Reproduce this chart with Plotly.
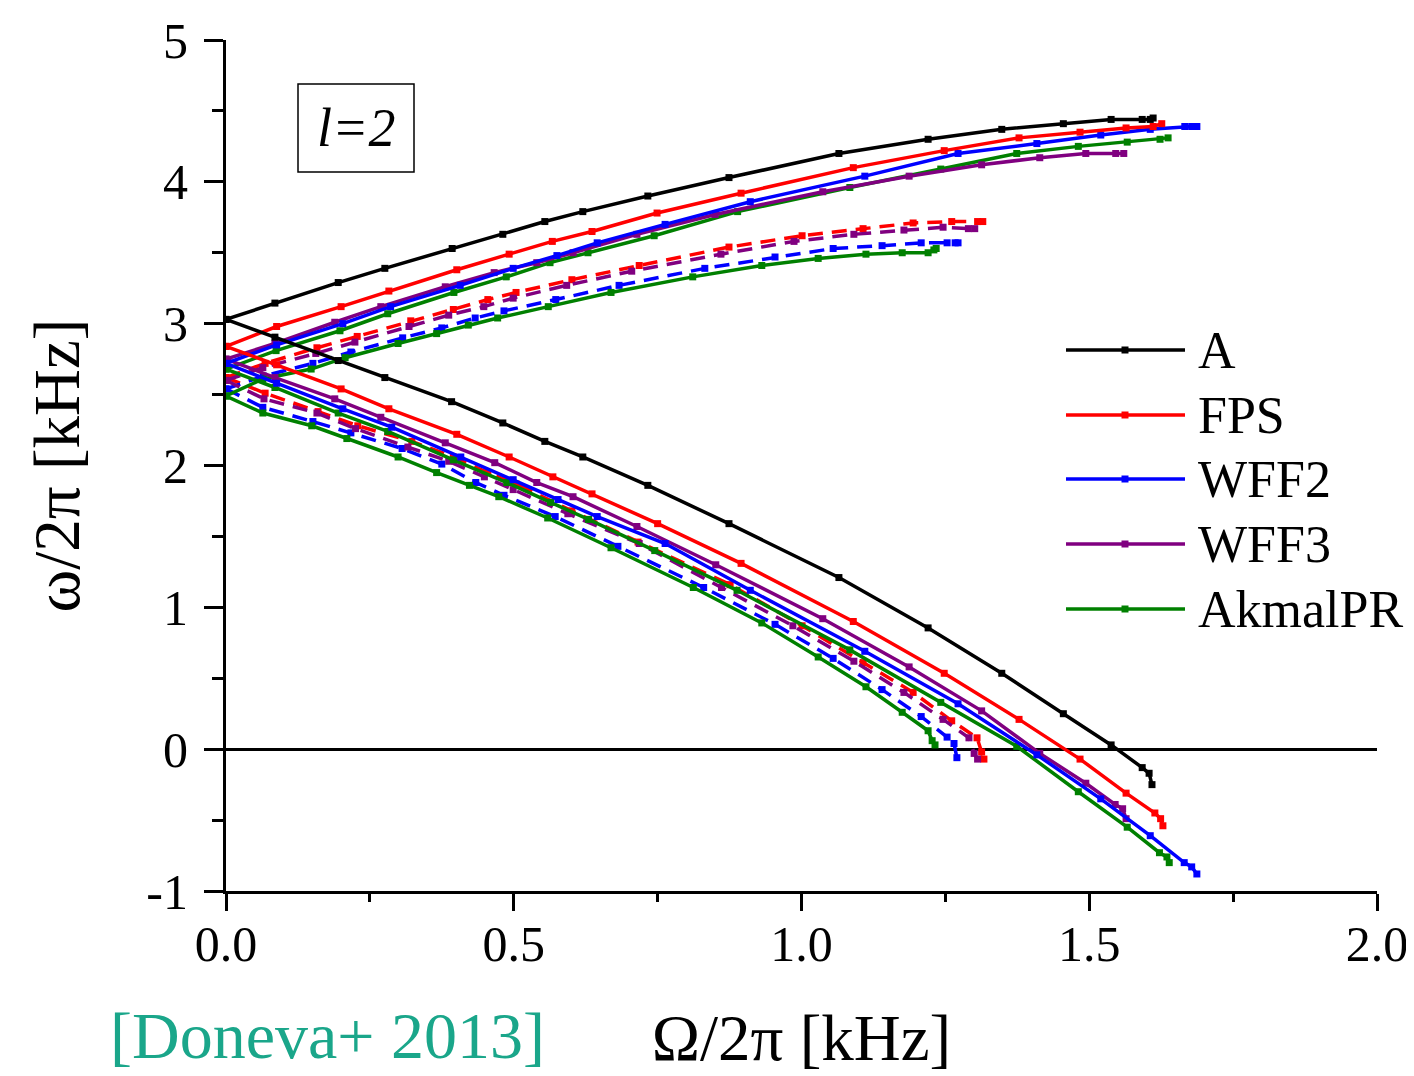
import plotly.graph_objects as go

# ---------------- data (Omega/2pi [kHz], omega/2pi [kHz]) ----------------
eos_names = ["A", "FPS", "WFF2", "WFF3", "AkmalPR"]
eos_colors = ["#000000", "#ff0000", "#0000ff", "#800080", "#008000"]

# family 1 (solid) - upper / lower branches
A_up_x = [0, 0.085, 0.195, 0.276, 0.393, 0.481, 0.554, 0.620, 0.733, 0.874, 1.065, 1.220, 1.348, 1.455, 1.538, 1.592, 1.606, 1.611]
A_up_y = [3.03, 3.145, 3.29, 3.39, 3.53, 3.63, 3.72, 3.79, 3.90, 4.03, 4.20, 4.30, 4.37, 4.41, 4.44, 4.44, 4.44, 4.45]
A_lo_x = [0, 0.085, 0.195, 0.276, 0.392, 0.481, 0.554, 0.620, 0.733, 0.874, 1.065, 1.220, 1.348, 1.455, 1.538, 1.592, 1.604, 1.609]
A_lo_y = [3.03, 2.905, 2.74, 2.62, 2.45, 2.30, 2.17, 2.06, 1.86, 1.59, 1.21, 0.855, 0.535, 0.25, 0.03, -0.13, -0.17, -0.25]

FPS_up_x = [0, 0.088, 0.200, 0.283, 0.401, 0.492, 0.567, 0.636, 0.749, 0.895, 1.090, 1.248, 1.378, 1.484, 1.564, 1.611, 1.626]
FPS_up_y = [2.84, 2.98, 3.12, 3.23, 3.38, 3.49, 3.58, 3.65, 3.78, 3.92, 4.10, 4.22, 4.31, 4.35, 4.38, 4.39, 4.41]
FPS_lo_x = [0, 0.088, 0.200, 0.283, 0.401, 0.492, 0.568, 0.636, 0.750, 0.895, 1.090, 1.248, 1.378, 1.484, 1.564, 1.614, 1.624, 1.628]
FPS_lo_y = [2.84, 2.71, 2.54, 2.40, 2.22, 2.06, 1.92, 1.80, 1.59, 1.31, 0.90, 0.535, 0.21, -0.07, -0.31, -0.45, -0.49, -0.54]

WFF2_up_x = [0, 0.088, 0.203, 0.286, 0.407, 0.499, 0.575, 0.645, 0.763, 0.911, 1.110, 1.272, 1.409, 1.520, 1.606, 1.666, 1.678, 1.687]
WFF2_up_y = [2.72, 2.85, 3.00, 3.12, 3.27, 3.39, 3.48, 3.57, 3.70, 3.86, 4.04, 4.20, 4.27, 4.33, 4.37, 4.39, 4.39, 4.39]
WFF2_lo_x = [0, 0.088, 0.203, 0.288, 0.408, 0.499, 0.577, 0.645, 0.763, 0.911, 1.110, 1.272, 1.409, 1.520, 1.606, 1.665, 1.678, 1.687]
WFF2_lo_y = [2.72, 2.58, 2.40, 2.27, 2.06, 1.90, 1.76, 1.64, 1.45, 1.12, 0.69, 0.32, -0.04, -0.35, -0.61, -0.80, -0.83, -0.88]

WFF3_up_x = [0, 0.085, 0.189, 0.269, 0.381, 0.466, 0.540, 0.603, 0.714, 0.850, 1.037, 1.187, 1.313, 1.414, 1.494, 1.546, 1.560]
WFF3_up_y = [2.75, 2.86, 3.01, 3.12, 3.26, 3.36, 3.43, 3.50, 3.63, 3.77, 3.93, 4.04, 4.12, 4.17, 4.20, 4.20, 4.20]
WFF3_lo_x = [0, 0.085, 0.189, 0.269, 0.381, 0.467, 0.540, 0.603, 0.714, 0.851, 1.037, 1.187, 1.313, 1.414, 1.494, 1.545, 1.558, 1.564]
WFF3_lo_y = [2.75, 2.62, 2.47, 2.34, 2.16, 2.02, 1.88, 1.78, 1.57, 1.30, 0.92, 0.58, 0.27, -0.03, -0.24, -0.39, -0.42, -0.49]

AkPR_up_x = [0, 0.087, 0.198, 0.281, 0.396, 0.487, 0.563, 0.629, 0.744, 0.889, 1.084, 1.242, 1.374, 1.481, 1.566, 1.623, 1.637]
AkPR_up_y = [2.68, 2.81, 2.95, 3.07, 3.22, 3.33, 3.43, 3.50, 3.62, 3.79, 3.96, 4.09, 4.20, 4.25, 4.28, 4.30, 4.31]
AkPR_lo_x = [0, 0.085, 0.195, 0.281, 0.395, 0.488, 0.564, 0.630, 0.745, 0.888, 1.084, 1.242, 1.374, 1.481, 1.566, 1.622, 1.635, 1.639]
AkPR_lo_y = [2.68, 2.55, 2.37, 2.24, 2.04, 1.88, 1.74, 1.62, 1.40, 1.12, 0.70, 0.33, 0.02, -0.30, -0.55, -0.73, -0.76, -0.80]

# family 2 (dashed; AkmalPR drawn solid) - upper / lower branches
FPS2_up_x = [0, 0.068, 0.158, 0.228, 0.321, 0.395, 0.455, 0.504, 0.601, 0.718, 0.874, 1.001, 1.107, 1.194, 1.261, 1.306, 1.315]
FPS2_up_y = [2.62, 2.72, 2.83, 2.91, 3.02, 3.10, 3.17, 3.22, 3.31, 3.41, 3.54, 3.62, 3.67, 3.71, 3.72, 3.72, 3.72]
FPS2_lo_x = [0, 0.068, 0.160, 0.229, 0.323, 0.395, 0.455, 0.504, 0.601, 0.716, 0.876, 1.001, 1.107, 1.194, 1.261, 1.305, 1.313, 1.317]
FPS2_lo_y = [2.62, 2.51, 2.38, 2.28, 2.17, 2.06, 1.95, 1.87, 1.68, 1.46, 1.16, 0.87, 0.61, 0.40, 0.20, 0.08, -0.02, -0.07]

WFF2b_up_x = [0, 0.065, 0.151, 0.217, 0.307, 0.375, 0.433, 0.483, 0.573, 0.683, 0.832, 0.954, 1.055, 1.140, 1.208, 1.253, 1.267, 1.272]
WFF2b_up_y = [2.54, 2.63, 2.72, 2.80, 2.90, 2.97, 3.04, 3.09, 3.17, 3.27, 3.39, 3.47, 3.53, 3.55, 3.57, 3.57, 3.57, 3.57]
WFF2b_lo_x = [0, 0.064, 0.151, 0.217, 0.306, 0.375, 0.434, 0.483, 0.572, 0.681, 0.830, 0.954, 1.055, 1.140, 1.208, 1.253, 1.265, 1.270]
WFF2b_lo_y = [2.54, 2.41, 2.31, 2.23, 2.12, 2.01, 1.88, 1.79, 1.64, 1.43, 1.14, 0.88, 0.64, 0.42, 0.23, 0.085, 0.04, -0.06]

WFF3b_up_x = [0, 0.064, 0.156, 0.224, 0.318, 0.387, 0.448, 0.499, 0.592, 0.705, 0.860, 0.987, 1.091, 1.178, 1.246, 1.290, 1.301]
WFF3b_up_y = [2.60, 2.69, 2.79, 2.87, 2.98, 3.06, 3.12, 3.18, 3.27, 3.37, 3.49, 3.58, 3.63, 3.66, 3.68, 3.67, 3.67]
WFF3b_lo_x = [0, 0.066, 0.158, 0.225, 0.316, 0.387, 0.449, 0.499, 0.594, 0.718, 0.861, 0.985, 1.091, 1.178, 1.246, 1.291, 1.300, 1.306]
WFF3b_lo_y = [2.60, 2.47, 2.37, 2.26, 2.13, 2.03, 1.92, 1.83, 1.66, 1.45, 1.14, 0.87, 0.62, 0.40, 0.21, 0.08, -0.03, -0.07]

AkPR2_up_x = [0, 0.064, 0.148, 0.207, 0.299, 0.366, 0.421, 0.472, 0.560, 0.669, 0.811, 0.931, 1.029, 1.112, 1.175, 1.220, 1.230, 1.234]
AkPR2_up_y = [2.49, 2.61, 2.68, 2.76, 2.86, 2.93, 2.99, 3.04, 3.12, 3.22, 3.33, 3.41, 3.46, 3.49, 3.50, 3.50, 3.52, 3.53]
AkPR2_lo_x = [0, 0.064, 0.149, 0.210, 0.299, 0.366, 0.423, 0.474, 0.559, 0.669, 0.812, 0.931, 1.029, 1.112, 1.175, 1.220, 1.227, 1.232]
AkPR2_lo_y = [2.49, 2.37, 2.28, 2.19, 2.06, 1.95, 1.86, 1.78, 1.63, 1.42, 1.14, 0.89, 0.65, 0.44, 0.26, 0.13, 0.06, 0.03]

x_tickvals = [0, 0.5, 1.0, 1.5, 2.0]
x_ticktext = ["0.0", "0.5", "1.0", "1.5", "2.0"]
y_tickvals = [-1, 0, 1, 2, 3, 4, 5]
y_ticktext = ["-1", "0", "1", "2", "3", "4", "5"]

# ---------------- figure ----------------
DASH = "15px,9px"
FONT = "Liberation Serif"

series = [
    (FPS2_up_x, FPS2_up_y, 1, DASH), (FPS2_lo_x, FPS2_lo_y, 1, DASH),
    (WFF2b_up_x, WFF2b_up_y, 2, DASH), (WFF2b_lo_x, WFF2b_lo_y, 2, DASH),
    (WFF3b_up_x, WFF3b_up_y, 3, DASH), (WFF3b_lo_x, WFF3b_lo_y, 3, DASH),
    (AkPR2_up_x, AkPR2_up_y, 4, "solid"), (AkPR2_lo_x, AkPR2_lo_y, 4, "solid"),
    (AkPR_up_x, AkPR_up_y, 4, "solid"), (AkPR_lo_x, AkPR_lo_y, 4, "solid"),
    (WFF3_up_x, WFF3_up_y, 3, "solid"), (WFF3_lo_x, WFF3_lo_y, 3, "solid"),
    (WFF2_up_x, WFF2_up_y, 2, "solid"), (WFF2_lo_x, WFF2_lo_y, 2, "solid"),
    (FPS_up_x, FPS_up_y, 1, "solid"), (FPS_lo_x, FPS_lo_y, 1, "solid"),
    (A_up_x, A_up_y, 0, "solid"), (A_lo_x, A_lo_y, 0, "solid"),
]

fig = go.Figure()
for xs, ys, ci, dash in series:
    fig.add_trace(go.Scatter(
        x=xs, y=ys, mode="lines+markers", name=eos_names[ci], showlegend=False,
        line=dict(color=eos_colors[ci], width=3.5, dash=dash),
        marker=dict(symbol="square", size=7, color=eos_colors[ci], line=dict(width=0)),
    ))

# page is shown with an 8px body margin -> compensate
OFF = 8
W, H = 1414 - OFF, 1076 - OFF
ML, MT = 226 - OFF, 40 - OFF
MR = W - (1377 - OFF)
MB = H - (891 - OFF)
PW, PH = W - ML - MR, H - MT - MB


def px2paper(px, py):
    # screen pixel (as in reference image) -> paper coordinates
    return (px - OFF - ML) / PW, (H - MB - (py - OFF)) / PH


shapes = []
annotations = []

# manual legend
leg_rows_py = [350, 415, 479, 544, 609]
lx0, _ = px2paper(1066, 0)
lx1, _ = px2paper(1185, 0)
lxm, _ = px2paper(1125, 0)
ltx, _ = px2paper(1196, 0)
for name, col, py in zip(eos_names, eos_colors, leg_rows_py):
    _, yy = px2paper(0, py)
    shapes.append(dict(type="line", xref="paper", yref="paper", x0=lx0, x1=lx1, y0=yy, y1=yy,
                       line=dict(color=col, width=3.5)))
    shapes.append(dict(type="rect", xref="paper", yref="paper", xsizemode="pixel", ysizemode="pixel",
                       xanchor=lxm, yanchor=yy, x0=-3.5, x1=3.5, y0=-3.5, y1=3.5,
                       fillcolor=col, line=dict(width=0)))
    annotations.append(dict(text=name, xref="paper", yref="paper", x=ltx, y=yy,
                            xanchor="left", yanchor="middle", showarrow=False,
                            font=dict(family=FONT, size=52, color="black")))

# l=2 box
bx0, by0 = px2paper(298, 172)
bx1, by1 = px2paper(414, 84)
shapes.append(dict(type="rect", xref="paper", yref="paper", x0=bx0, x1=bx1, y0=by0, y1=by1,
                   line=dict(color="black", width=1.5), fillcolor="rgba(0,0,0,0)"))
tx, ty = px2paper(356, 128)
annotations.append(dict(text="<i>l=2</i>", xref="paper", yref="paper", x=tx, y=ty,
                        xanchor="center", yanchor="middle", showarrow=False,
                        font=dict(family=FONT, size=54, color="black")))

# caption
cx, cy = px2paper(327, 1035)
annotations.append(dict(text="[Doneva+ 2013]", xref="paper", yref="paper", x=cx, y=cy,
                        xanchor="center", yanchor="middle", showarrow=False,
                        font=dict(family=FONT, size=66, color="#1aa68a")))

fig.update_layout(
    width=W, height=H,
    margin=dict(l=ML, r=MR, t=MT, b=MB, autoexpand=False),
    paper_bgcolor="white", plot_bgcolor="white",
    showlegend=False,
    shapes=shapes, annotations=annotations,
    font=dict(family=FONT, color="black"),
    xaxis=dict(
        range=[0, 2], tickvals=x_tickvals, ticktext=x_ticktext,
        ticks="outside", ticklen=17, tickwidth=3, tickcolor="black",
        showline=True, linecolor="black", linewidth=3,
        showgrid=False, zeroline=False, automargin=False,
        minor=dict(ticks="outside", ticklen=8, tickwidth=3, tickcolor="black", dtick=0.25, tick0=0, showgrid=False),
        tickfont=dict(family=FONT, size=50, color="black"),
        ticklabelstandoff=-10,
        title=dict(text="Ω/2π [kHz]", font=dict(family=FONT, size=65, color="black"), standoff=44),
    ),
    yaxis=dict(
        range=[-1, 5], tickvals=y_tickvals, ticktext=y_ticktext,
        ticks="outside", ticklen=19, tickwidth=3, tickcolor="black",
        showline=True, linecolor="black", linewidth=3,
        showgrid=False, zeroline=True, zerolinecolor="black", zerolinewidth=3, automargin=False,
        minor=dict(ticks="outside", ticklen=11, tickwidth=3, tickcolor="black", dtick=0.5, tick0=0, showgrid=False),
        tickfont=dict(family=FONT, size=50, color="black"),
        ticklabelstandoff=6,
        title=dict(text="ω/2π [kHz]", font=dict(family=FONT, size=65, color="black"), standoff=46),
    ),
)

fig.write_html("out.html")
